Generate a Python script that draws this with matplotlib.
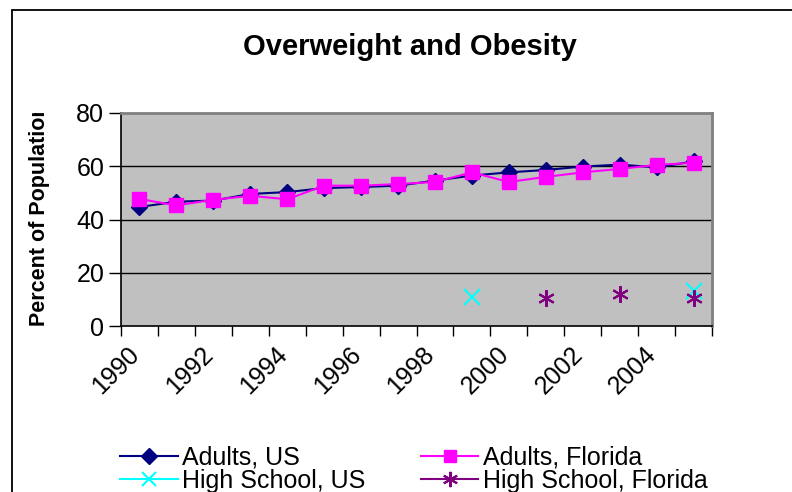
import matplotlib
matplotlib.use("Agg")
import matplotlib.pyplot as plt
from matplotlib.patches import Rectangle
from matplotlib.transforms import Bbox, ScaledTranslation
from matplotlib.lines import Line2D
import numpy as np

plt.rcParams['font.family'] = ['Liberation Sans', 'DejaVu Sans']

years = list(range(1990, 2006))
adults_us = [44.7, 46.7, 47.1, 49.6, 50.3, 51.8, 52.2, 52.7, 54.6, 56.5, 57.7, 58.6, 59.9, 60.6, 59.6, 61.8]
adults_fl = [47.7, 45.3, 47.4, 48.9, 47.6, 52.7, 52.7, 53.3, 54.1, 57.7, 54.1, 56.0, 57.7, 59.0, 60.5, 61.3]
hs_years_us = [1999, 2005]
hs_us = [10.8, 13.0]
hs_years_fl = [2001, 2003, 2005]
hs_fl = [10.5, 12.0, 10.5]
tick_years = list(range(1990, 2007))
label_years = list(range(1990, 2005, 2))

W, H = 792, 492
fig = plt.figure(figsize=(W / 100, H / 100), dpi=100)
fig.patch.set_facecolor('white')

# outer frame
fig.patches.append(Rectangle((12 / W, -0.2), 2.0, (1 - 10 / H) + 0.2, fill=False,
                             edgecolor='black', lw=1.3, transform=fig.transFigure))

L, R, T, B = 121, 712, 113, 326
ax = fig.add_axes([L / W, 1 - B / H, (R - L) / W, (B - T) / H])
ax.set_facecolor('#C0C0C0')

xs = np.array(years) + 0.5
ax.plot(xs, adults_us, color='#000080', marker='D', markersize=8.5, lw=1.5, zorder=3)
ax.plot(xs, adults_fl, color='#FF00FF', marker='s', markersize=10, lw=1.5, zorder=4)
ax.plot(np.array(hs_years_us) + 0.5, hs_us, color='#00FFFF', marker='x', markersize=11,
        mew=1.5, linestyle='none', zorder=5)
ax.plot(np.array(hs_years_fl) + 0.5, hs_fl, color='#800080', marker=(6, 2, 0), markersize=12,
        mew=1.5, linestyle='none', zorder=5)

ax.set_xlim(1990, 2006)
ax.set_ylim(0, 80)
ax.set_yticks([0, 20, 40, 60, 80])
ax.set_xticks(tick_years)
ax.set_xticklabels([str(y) if y in label_years else '' for y in tick_years])
ax.tick_params(axis='y', labelsize=18, length=9, width=1, direction='out', pad=3)
ax.tick_params(axis='x', labelsize=18, length=7, width=1, direction='out', pad=2)
for lab in ax.get_xticklabels():
    lab.set_rotation(45)
    lab.set_ha('right')
    lab.set_va('top')
    lab.set_rotation_mode('anchor')
    lab.set_transform(lab.get_transform() + ScaledTranslation(6 / 100, -4 / 100, fig.dpi_scale_trans))

for y in [20, 40, 60]:
    ax.axhline(y, color='black', lw=1, zorder=1)
ax.spines['left'].set_color('black')
ax.spines['bottom'].set_color('black')
ax.spines['left'].set_linewidth(1.2)
ax.spines['bottom'].set_linewidth(1.2)
for s in ['top', 'right']:
    ax.spines[s].set_color('#808080')
    ax.spines[s].set_linewidth(2)

fig.text(410 / W, 1 - 47 / H, 'Overweight and Obesity', ha='center', va='center',
         fontsize=21, fontweight='bold')
yl = fig.text(40 / W, 1 - 215 / H, 'Percent of Population', rotation=90, ha='center',
              va='center', fontsize=15.5, fontweight='bold')
yl.set_clip_box(Bbox.from_extents(0, 0, W, H - T))

leg_handles = [
    Line2D([], [], color='#000080', marker='D', markersize=8, lw=1.5),
    Line2D([], [], color='#00FFFF', marker='x', markersize=10, mew=1.5, lw=1.5),
    Line2D([], [], color='#FF00FF', marker='s', markersize=8, lw=1.5),
    Line2D([], [], color='#800080', marker=(6, 2, 0), markersize=11, mew=1.5, lw=1.5),
]
leg_labels = ['Adults, US', 'High School, US', 'Adults, Florida', 'High School, Florida']
leg = fig.legend(leg_handles, leg_labels, ncol=2, loc='upper left',
                 bbox_to_anchor=(120 / W, 1 - 446 / H), frameon=False, fontsize=18,
                 handlelength=2.3, handletextpad=0.2, labelspacing=-0.05,
                 columnspacing=2.2, borderpad=0, borderaxespad=0)

fig.savefig('out.png', dpi=100)
